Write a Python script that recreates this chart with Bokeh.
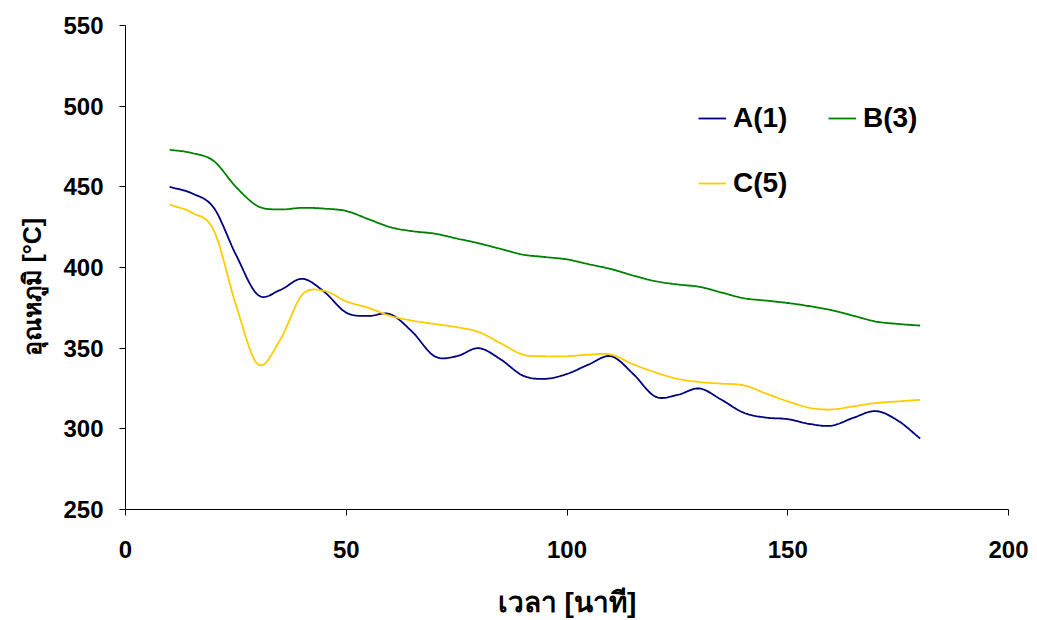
import numpy as np
from bokeh.plotting import figure
from bokeh.models import Legend, LegendItem, Range1d, FixedTicker, Title
from bokeh.embed import file_html
from bokeh.resources import INLINE

# ---- data ----
time_min = [10, 15, 20, 25, 30, 35, 40, 45, 50, 55, 60, 65, 70, 75, 80, 85, 90,
            95, 100, 105, 110, 115, 120, 125, 130, 135, 140, 145, 150, 155, 160,
            165, 170, 175, 180]
series_a = [450, 446, 437, 408, 383, 386, 393, 385, 372, 370, 371, 360, 345, 345,
            350, 343, 333, 331, 334, 340, 345, 334, 320, 321, 325, 318, 310, 307,
            306, 303, 302, 307, 311, 305, 294]
series_b = [473, 471, 466, 450, 438, 436, 437, 436.5, 435, 430, 425, 422.5, 421,
            418, 415, 411.5, 408, 406.5, 405, 402, 399, 395, 391.5, 389.5, 388,
            384.5, 381, 379.5, 378, 376, 373.5, 370, 366.5, 365, 364]
series_c = [439, 434, 423, 377, 340, 355, 383, 385.5, 379, 375, 370, 367, 365, 363,
            360, 353, 346, 345, 345, 346, 346, 340, 335, 331, 329, 328, 327, 322,
            317, 313, 312, 314, 316, 317, 318]
labels = ["A(1)", "B(3)", "C(5)"]
colors = ["#000080", "#008000", "#FFCC00"]
x_ticks = [0, 50, 100, 150, 200]
y_ticks = [250, 300, 350, 400, 450, 500, 550]
x_title = "เวลา [นาที]"
y_title = "อุณหภูมิ [°C]"


def smooth(xs, ys, n=16):
    """Catmull-Rom rendering of the data points (like a spreadsheet's smoothed line)."""
    xs = np.asarray(xs, float)
    ys = np.asarray(ys, float)
    px = np.concatenate([[2 * xs[0] - xs[1]], xs, [2 * xs[-1] - xs[-2]]])
    py = np.concatenate([[2 * ys[0] - ys[1]], ys, [2 * ys[-1] - ys[-2]]])
    ox, oy = [], []
    t = np.linspace(0, 1, n, endpoint=False)
    for i in range(1, len(px) - 2):
        for arr, out in ((px, ox), (py, oy)):
            p0, p1, p2, p3 = arr[i - 1], arr[i], arr[i + 1], arr[i + 2]
            out.extend(0.5 * ((2 * p1) + (-p0 + p2) * t +
                              (2 * p0 - 5 * p1 + 4 * p2 - p3) * t ** 2 +
                              (-p0 + 3 * p1 - 3 * p2 + p3) * t ** 3))
    ox.append(xs[-1])
    oy.append(ys[-1])
    return ox, oy


FONT = "Liberation Sans"

p = figure(width=1029, height=612, output_backend="svg", toolbar_location=None,
           x_range=Range1d(0, 200), y_range=Range1d(250, 550),
           min_border_left=125, min_border_right=21, min_border_top=25,
           min_border_bottom=103)
p.frame_width = 883
p.frame_height = 484
p.outline_line_color = None
p.xgrid.visible = False
p.ygrid.visible = False
p.background_fill_color = "white"
p.border_fill_color = "white"

renderers = []
for ys, col in zip([series_a, series_b, series_c], colors):
    sx, sy = smooth(time_min, ys)
    r = p.line(sx, sy, line_color=col, line_width=1.8)
    renderers.append(r)

for ax in (p.xaxis[0], p.yaxis[0]):
    ax.axis_line_color = "black"
    ax.axis_line_width = 1
    ax.major_tick_line_color = "black"
    ax.major_tick_in = 0
    ax.major_tick_out = 6
    ax.minor_tick_line_color = None
    ax.major_label_text_font = FONT
    ax.major_label_text_font_style = "bold"
    ax.major_label_text_font_size = "24px"
    ax.major_label_text_color = "black"
    ax.axis_label_text_font = FONT
    ax.axis_label_text_font_style = "bold"
    ax.axis_label_text_color = "black"

p.xaxis.ticker = FixedTicker(ticks=x_ticks)
p.yaxis.ticker = FixedTicker(ticks=y_ticks)
p.xaxis.major_label_standoff = 25
p.yaxis.major_label_standoff = 16
p.xaxis.axis_label = x_title
p.xaxis.axis_label_text_font_size = "28px"
p.xaxis.axis_label_standoff = 26

# y-axis title in the left panel, placed a little below the axis centre
p.add_layout(Title(text=y_title, align="left", offset=154, standoff=30,
                   text_font=FONT, text_font_style="bold", text_font_size="25px",
                   text_color="black"), "left")

items = [LegendItem(label=l, renderers=[r]) for l, r in zip(labels, renderers)]
legend = Legend(items=[items[0], items[2], items[1]], ncols=2, location=(573, 310))
legend.border_line_color = None
legend.background_fill_alpha = 0
legend.padding = 0
legend.margin = 0
legend.spacing = 33
legend.glyph_width = 28
legend.glyph_height = 26
legend.label_height = 26
legend.label_width = 62
legend.label_standoff = 7
legend.label_text_font = FONT
legend.label_text_font_style = "bold"
legend.label_text_font_size = "28px"
legend.label_text_color = "black"
p.add_layout(legend, "center")

open("out.html", "w").write(file_html(p, INLINE))
